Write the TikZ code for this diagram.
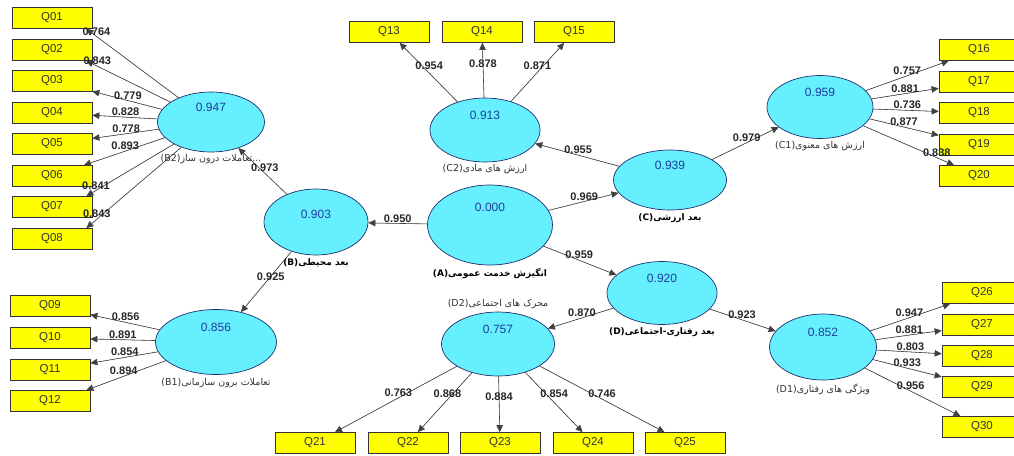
\documentclass[tikz,border=0pt]{standalone}
\usepackage{fontspec}
\setmainfont{Liberation Sans}
\newfontfamily\farsi[Script=Arabic]{DejaVu Sans}
\TeXXeTstate=1
\usepackage{tikz}
\usetikzlibrary{shapes.geometric,arrows.meta,positioning}
\definecolor{latfill}{HTML}{66F0FF}
\definecolor{latline}{HTML}{1F2F6B}
\definecolor{valblue}{HTML}{1F3C99}
\definecolor{indfill}{HTML}{FFFF00}
\definecolor{indline}{HTML}{333333}
\definecolor{linegray}{HTML}{404040}
\newcommand{\faname}[2]{{\farsi\beginR #1\beginL(#2)\endL\endR}}
\tikzset{
  latent/.style={ellipse,draw=latline,line width=0.7pt,fill=latfill,inner sep=0pt,
                 text height=9pt,text depth=#1,font=\fontsize{12}{14}\selectfont,text=valblue},
  latent/.default=30pt,
  ind/.style={rectangle,draw=indline,line width=0.7pt,fill=indfill,minimum width=80pt,
              minimum height=21pt,inner sep=0pt,font=\fontsize{11.5}{13}\selectfont,text=black!80},
  latname/.style={inner sep=1pt,font=\fontsize{9.5}{11}\selectfont,text=black!80},
  latbold/.style={latname,font=\bfseries\fontsize{9}{11}\selectfont,text=black},
  load/.style={-{Triangle[length=7pt,width=6.5pt]},line width=0.6pt,draw=linegray,fill=black},
  coef/.style={font=\bfseries\fontsize{11}{13}\selectfont,text=black!85,inner sep=1pt},
}
\begin{document}
\begin{tikzpicture}[x=1pt,y=-1pt]
\useasboundingbox (0,0) rectangle (1014,455);
% latent variables
\node[latent=37pt,minimum width=125pt,minimum height=80pt] (A) at (490,225) {0.000};
\node[latent=16pt,minimum width=104pt,minimum height=66pt] (B) at (316,222) {0.903};
\node[latent,minimum width=121pt,minimum height=65pt] (B1) at (216,342) {0.856};
\node[latent,minimum width=107pt,minimum height=60pt] (B2) at (211,122) {0.947};
\node[latent,minimum width=113pt,minimum height=60pt] (C) at (670,180) {0.939};
\node[latent,minimum width=106pt,minimum height=63pt] (C1) at (820,107) {0.959};
\node[latent,minimum width=110pt,minimum height=64pt] (C2) at (485,130) {0.913};
\node[latent,minimum width=110pt,minimum height=63pt] (D) at (662,293) {0.920};
\node[latent,minimum width=107pt,minimum height=66pt] (D1) at (823,347) {0.852};
\node[latent,minimum width=113pt,minimum height=64pt] (D2) at (498,344) {0.757};
% names of the latent variables
\node[latbold,below=2pt of A] (An) {\faname{انگیزش خدمت عمومی}{A}};
\node[latbold,below=2pt of B] (Bn) {\faname{بعد محیطی}{B}};
\node[latname,below=2pt of B1] (B1n) {\faname{تعاملات برون سازمانی}{B1}};
\node[latname,below=1pt of B2] (B2n) {\faname{...تعاملات درون ساز}{B2}};
\node[latbold,below=2pt of C] (Cn) {\faname{بعد ارزشی}{C}};
\node[latname,below=1pt of C1] (C1n) {\faname{ارزش های معنوی}{C1}};
\node[latname,below=1pt of C2] (C2n) {\faname{ارزش های مادی}{C2}};
\node[latbold,below=2pt of D] (Dn) {\faname{بعد رفتاری-اجتماعی}{D}};
\node[latname,below=2pt of D1] (D1n) {\faname{ویژگی های رفتاری}{D1}};
\node[latname,above=2pt of D2] (D2n) {\faname{محرک های اجتماعی}{D2}};
% indicators
\foreach \q/\y in {01/18,02/50,03/81,04/113,05/144,06/176,07/207,08/239}
  \node[ind] (Q\q) at (52,\y) {Q\q};
\foreach \q/\y in {09/306,10/338,11/370,12/401}
  \node[ind] (Q\q) at (50,\y) {Q\q};
\foreach \q/\x in {13/389,14/482,15/574}
  \node[ind] (Q\q) at (\x,32) {Q\q};
\foreach \q/\y in {16/50,17/82,18/113,19/145,20/176}
  \node[ind] (Q\q) at (979,\y) {Q\q};
\foreach \q/\x in {21/315,22/408,23/500,24/593,25/685}
  \node[ind] (Q\q) at (\x,443) {Q\q};
\foreach \q/\y in {26/293,27/325,28/356,29/387,30/427}
  \node[ind] (Q\q) at (982,\y) {Q\q};
% outer model
\draw[load] (B2) -- node[coef,above,pos=.89] {0.764} ([xshift=-6pt]Q01.south east);
\draw[load] (B2) -- node[coef,above,pos=.87] {0.843} ([xshift=-6pt]Q02.south east);
\foreach \q/\v in {03/0.779,04/0.828,05/0.778,06/0.893}
  \draw[load] (B2) -- node[coef,above,pos=.49] {\v} (Q\q);
\draw[load] (B2) -- node[coef,above,pos=.89] {0.841} ([xshift=-6pt]Q07.north east);
\draw[load] (B2) -- node[coef,above,pos=.89] {0.843} ([xshift=-6pt]Q08.north east);
\foreach \q/\v/\p in {09/0.856/.49,10/0.891/.50,11/0.854/.49}
  \draw[load] (B1) -- node[coef,above,pos=\p] {\v} (Q\q);
\draw[load] (B1) -- node[coef,above,pos=.53] {0.894} ([xshift=-4pt]Q12.north east);
\draw[load] (C2) -- node[coef,pos=.61,xshift=7pt] {0.954} (Q13);
\draw[load] (C2) -- node[coef,pos=.62] {0.878} (Q14);
\draw[load] (C2) -- node[coef,pos=.61,xshift=-6pt] {0.871} (Q15);
\foreach \q/\v/\p in {16/0.757/.50,17/0.881/.50,18/0.736/.52,19/0.877/.50,20/0.838/.81}
  \draw[load] (C1) -- node[coef,above,pos=\p] {\v} (Q\q);
\draw[load] (D2) -- node[coef,above,pos=.48] {0.763} (Q21);
\draw[load] (D2) -- node[coef,pos=.36,xshift=-5pt] {0.868} (Q22);
\draw[load] (D2) -- node[coef,pos=.37] {0.884} (Q23);
\draw[load] (D2) -- node[coef,pos=.365,xshift=8pt] {0.854} (Q24);
\draw[load] (D2) -- node[coef,above,pos=.50] {0.746} (Q25);
\foreach \q/\v/\p in {26/0.947/.49,27/0.881/.51,28/0.803/.52,29/0.933/.50,30/0.956/.48}
  \draw[load] (D1) -- node[coef,above,pos=\p] {\v} (Q\q);
% inner model
\draw[load] (A) -- node[coef,above,pos=.5] {0.950} (B);
\draw[load] (A) -- node[coef,above,pos=.51] {0.969} (C);
\draw[load] (A) -- node[coef,above,pos=.49] {0.959} (D);
\draw[load] (B) -- node[coef,pos=.58,xshift=6pt] {0.973} (B2);
\draw[load] (B) -- node[coef,pos=.41] {0.925} (B1);
\draw[load] (C) -- node[coef,above,pos=.49] {0.955} (C2);
\draw[load] (C) -- node[coef,above,pos=.52] {0.979} (C1);
\draw[load] (D) -- node[coef,above,pos=.48] {0.870} (D2);
\draw[load] (D) -- node[coef,above,pos=.49] {0.923} (D1);
\end{tikzpicture}
\end{document}
